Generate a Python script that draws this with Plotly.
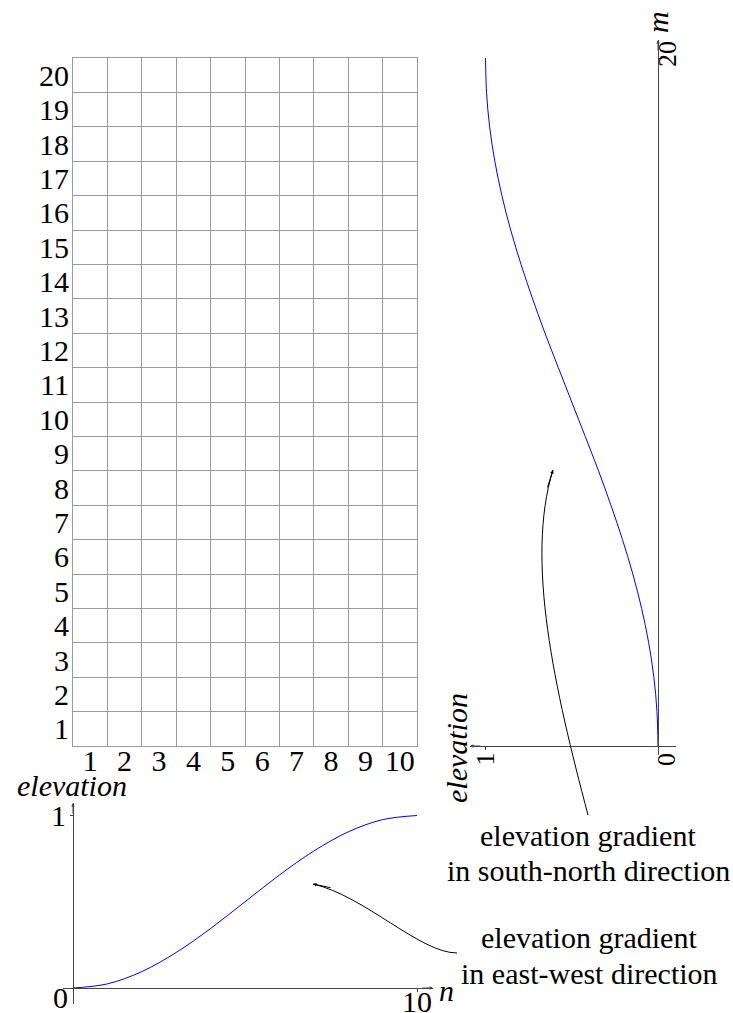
import plotly.graph_objects as go

W, H = 733, 1013

# ---------------- data ----------------
grid_cols = [1, 2, 3, 4, 5, 6, 7, 8, 9, 10]
grid_rows = [1, 2, 3, 4, 5, 6, 7, 8, 9, 10, 11, 12, 13, 14, 15, 16, 17, 18, 19, 20]

# east-west profile (bottom plot)
n_values = [0, 1, 2, 3, 4, 5, 6, 7, 8, 9, 10]
ew_elevation = [0.0, 0.024, 0.095, 0.206, 0.345, 0.5, 0.655, 0.794, 0.905, 0.976, 1.0]

# south-north profile (right plot)
m_values = [0, 1, 2, 3, 4, 5, 6, 7, 8, 9, 10, 11, 12, 13, 14, 15, 16, 17, 18, 19, 20]
sn_elevation = [0.0, 0.006, 0.024, 0.054, 0.095, 0.146, 0.206, 0.273, 0.345, 0.422, 0.5,
                0.578, 0.655, 0.727, 0.794, 0.854, 0.905, 0.946, 0.976, 0.994, 1.0]

bottom_ticks = [10]
bottom_elev_ticks = [1]
right_elev_ticks = [1]
right_m_ticks = [20]

# ---------------- style ----------------
FONT = "Liberation Serif"
FS = 30
FS_ROT = 26
GRID = "#9a9a9a"
AX = "#444444"
BLUE = "#0000ff"


def fx(px):
    return px / W


def fy(py):
    return 1 - py / H


fig = go.Figure()

# invisible trace to establish the grid axes
fig.add_trace(go.Scatter(x=[0, 10], y=[0, 20], mode="markers", marker=dict(opacity=0),
                         hoverinfo="skip", showlegend=False, xaxis="x", yaxis="y"))

fig.add_trace(go.Scatter(x=n_values, y=ew_elevation, mode="lines", line=dict(color=BLUE, width=1, shape="spline"),
                         hoverinfo="skip", showlegend=False, xaxis="x2", yaxis="y2"))

fig.add_trace(go.Scatter(x=sn_elevation, y=m_values, mode="lines", line=dict(color=BLUE, width=1, shape="spline"),
                         hoverinfo="skip", showlegend=False, xaxis="x3", yaxis="y3"))

tickfont = dict(family=FONT, size=FS, color="black")
rotfont = dict(family=FONT, size=FS_ROT, color="black")

# px per unit for the profile plots
SX = 34.4   # per grid cell
SE = 172.5  # per unit elevation

fig.update_layout(
    template="none",
    width=W, height=H,
    margin=dict(l=0, r=0, t=0, b=0, pad=0),
    paper_bgcolor="white", plot_bgcolor="rgba(0,0,0,0)",
    showlegend=False,
    xaxis=dict(domain=[fx(73), fx(417)], range=[0, 10], anchor="y", automargin=False,
               tickvals=[c - 0.5 for c in grid_cols], ticktext=[str(c) for c in grid_cols],
               ticks="", showgrid=False, zeroline=False,
               minor=dict(tick0=0, dtick=1, showgrid=True, gridcolor=GRID, gridwidth=1, ticks=""),
               showline=True, mirror=True, linecolor=GRID, linewidth=1,
               tickfont=tickfont, ticklabelstandoff=-12),
    yaxis=dict(domain=[fy(746), fy(58)], range=[0, 20], anchor="x", automargin=False,
               tickvals=[r - 0.5 for r in grid_rows], ticktext=[str(r) for r in grid_rows],
               ticks="", showgrid=False, zeroline=False,
               minor=dict(tick0=0, dtick=1, showgrid=True, gridcolor=GRID, gridwidth=1, ticks=""),
               showline=True, mirror=True, linecolor=GRID, linewidth=1,
               tickfont=tickfont, ticklabelstandoff=-3),
    xaxis2=dict(domain=[fx(63), fx(433)], range=[(63 - 73) / SX, (433 - 73) / SX],
                anchor="free", position=fy(988), automargin=False,
                tickvals=bottom_ticks, ticktext=[str(v) for v in bottom_ticks],
                ticks="outside", ticklen=3, tickcolor=AX, showgrid=False, zeroline=False,
                showline=True, linecolor=AX, linewidth=1, tickfont=tickfont, ticklabelstandoff=-16),
    yaxis2=dict(domain=[fy(1004), fy(803)], range=[(988 - 1004) / SE, (988 - 803) / SE],
                anchor="free", position=fx(73), automargin=False,
                tickvals=bottom_elev_ticks, ticktext=[str(v) for v in bottom_elev_ticks],
                ticks="outside", ticklen=3, tickcolor=AX, showgrid=False, zeroline=False,
                showline=True, linecolor=AX, linewidth=1, tickfont=tickfont, ticklabelstandoff=-2),
    xaxis3=dict(domain=[fx(470), fx(676)], range=[(658 - 470) / SE, (658 - 676) / SE],
                anchor="free", position=fy(746), automargin=False,
                tickvals=right_elev_ticks, ticktext=[str(v) for v in right_elev_ticks], tickangle=-90,
                ticks="outside", ticklen=3, tickcolor=AX, showgrid=False, zeroline=False,
                showline=True, linecolor=AX, linewidth=1, tickfont=rotfont, ticklabelstandoff=-8),
    yaxis3=dict(domain=[fy(755), fy(40)], range=[(746 - 755) / SX, (746 - 40) / SX],
                anchor="free", position=fx(658), side="right", automargin=False,
                tickvals=right_m_ticks, ticktext=[str(v) for v in right_m_ticks], tickangle=-90,
                ticks="outside", ticklen=3, tickcolor=AX, showgrid=False, zeroline=False,
                showline=True, linecolor=AX, linewidth=1, tickfont=rotfont, ticklabelstandoff=-17),
)

# axis arrowheads
for (tx, ty, ax, ay) in [(433, 988, -12, 0), (73, 803, 0, 12), (470, 746, 12, 0), (658, 40, 0, 12)]:
    fig.add_annotation(x=fx(tx), y=fy(ty), xref="paper", yref="paper", ax=ax, ay=ay, text="",
                       showarrow=True, arrowhead=2, arrowsize=0.7, arrowwidth=1, arrowcolor=AX)


def label(text, px, py, angle=0, size=FS):
    fig.add_annotation(x=fx(px), y=fy(py), xref="paper", yref="paper", text=text, showarrow=False,
                       xanchor="center", yanchor="middle", textangle=angle,
                       font=dict(family=FONT, size=size, color="black"))


label("0", 60, 997)
label("<i>elevation</i>", 72, 785)
label("<i>n</i>", 446, 990)
label("<i>m</i>", 658, 22, angle=-90)
label("0", 666, 760, angle=-90, size=FS_ROT)
label("<i>elevation</i>", 456, 748, angle=-90)
label("elevation gradient", 588, 835)
label("in south-north direction", 588, 870)
label("elevation gradient", 589, 937)
label("in east-west direction", 589, 973)

# curved pointer arrows
fig.add_shape(type="path", xref="paper", yref="paper",
              path=f"M {fx(588)},{fy(815)} C {fx(555)},{fy(690)} {fx(525)},{fy(560)} {fx(553)},{fy(470)}",
              line=dict(color="black", width=1))
fig.add_annotation(x=fx(553), y=fy(470), xref="paper", yref="paper", ax=-6, ay=19, text="",
                   showarrow=True, arrowhead=2, arrowsize=0.7, arrowwidth=1, arrowcolor="black")
fig.add_shape(type="path", xref="paper", yref="paper",
              path=f"M {fx(457)},{fy(953)} C {fx(420)},{fy(953)} {fx(365)},{fy(896)} {fx(313)},{fy(884)}",
              line=dict(color="black", width=1))
fig.add_annotation(x=fx(313), y=fy(884), xref="paper", yref="paper", ax=19, ay=4, text="",
                   showarrow=True, arrowhead=2, arrowsize=0.7, arrowwidth=1, arrowcolor="black")

fig.write_html("out.html", config={"displayModeBar": False},
               post_script="document.body.style.margin='0';document.body.style.overflow='hidden';")
